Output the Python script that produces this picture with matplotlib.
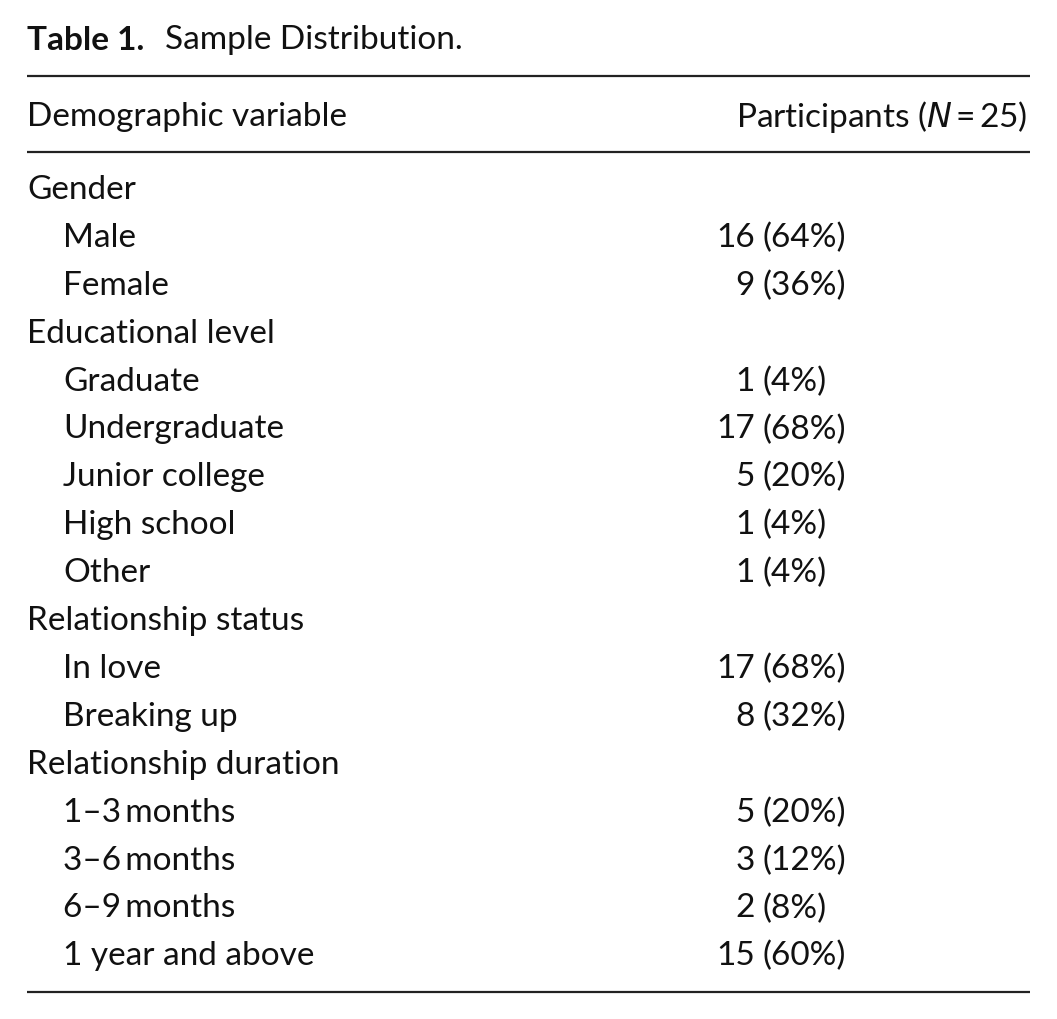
import matplotlib
matplotlib.use("Agg")
import matplotlib.pyplot as plt

# table content
labels = ["Gender", "Male", "Female",
          "Educational level", "Graduate", "Undergraduate", "Junior college", "High school", "Other",
          "Relationship status", "In love", "Breaking up",
          "Relationship duration", "1\u20133\u2009months", "3\u20136\u2009months", "6\u20139\u2009months", "1 year and above"]
indent = [0, 1, 1, 0, 1, 1, 1, 1, 1, 0, 1, 1, 0, 1, 1, 1, 1]
counts = ["", "16", "9", "", "1", "17", "5", "1", "1", "", "17", "8", "", "5", "3", "2", "15"]
percents = ["", "64%", "36%", "", "4%", "68%", "20%", "4%", "4%", "", "68%", "32%", "", "20%", "12%", "8%", "60%"]

plt.rcParams['font.family'] = ['Lato', 'DejaVu Sans']
FS = 24
TXT = "#111111"

fig = plt.figure(figsize=(10.57, 10.20), dpi=100)
ax = fig.add_axes([0, 0, 1, 1])
ax.set_xlim(0, 1057)
ax.set_ylim(1020, 0)
ax.axis("off")

left, right = 27, 1030
ax.text(left, 40, "Table 1.", fontsize=FS, fontweight="bold", va="center", ha="left", color=TXT)
ax.text(left + 138, 40, "Sample Distribution.", fontsize=FS, va="center", ha="left", color=TXT)

for y in (77, 153, 993):
    ax.plot([left, right], [y, y], color="#222222", lw=1.6, solid_capstyle="butt")

ax.text(left, 117, "Demographic variable", fontsize=FS, va="center", ha="left", color=TXT)
ax.text(right - 3, 117, "Participants ($\\it{N}$\u2009=\u200925)", fontsize=FS, va="center", ha="right",
        color=TXT)

y0, step = 190, 47.9
for i, lab in enumerate(labels):
    y = y0 + i * step
    ax.text(left + 36 * indent[i], y, lab, fontsize=FS, va="center", ha="left", color=TXT)
    if counts[i]:
        ax.text(755, y, counts[i], fontsize=FS, va="center", ha="right", color=TXT)
        ax.text(763, y, "(" + percents[i] + ")", fontsize=FS, va="center", ha="left", color=TXT)

fig.savefig("out.png", dpi=100, facecolor="white")
